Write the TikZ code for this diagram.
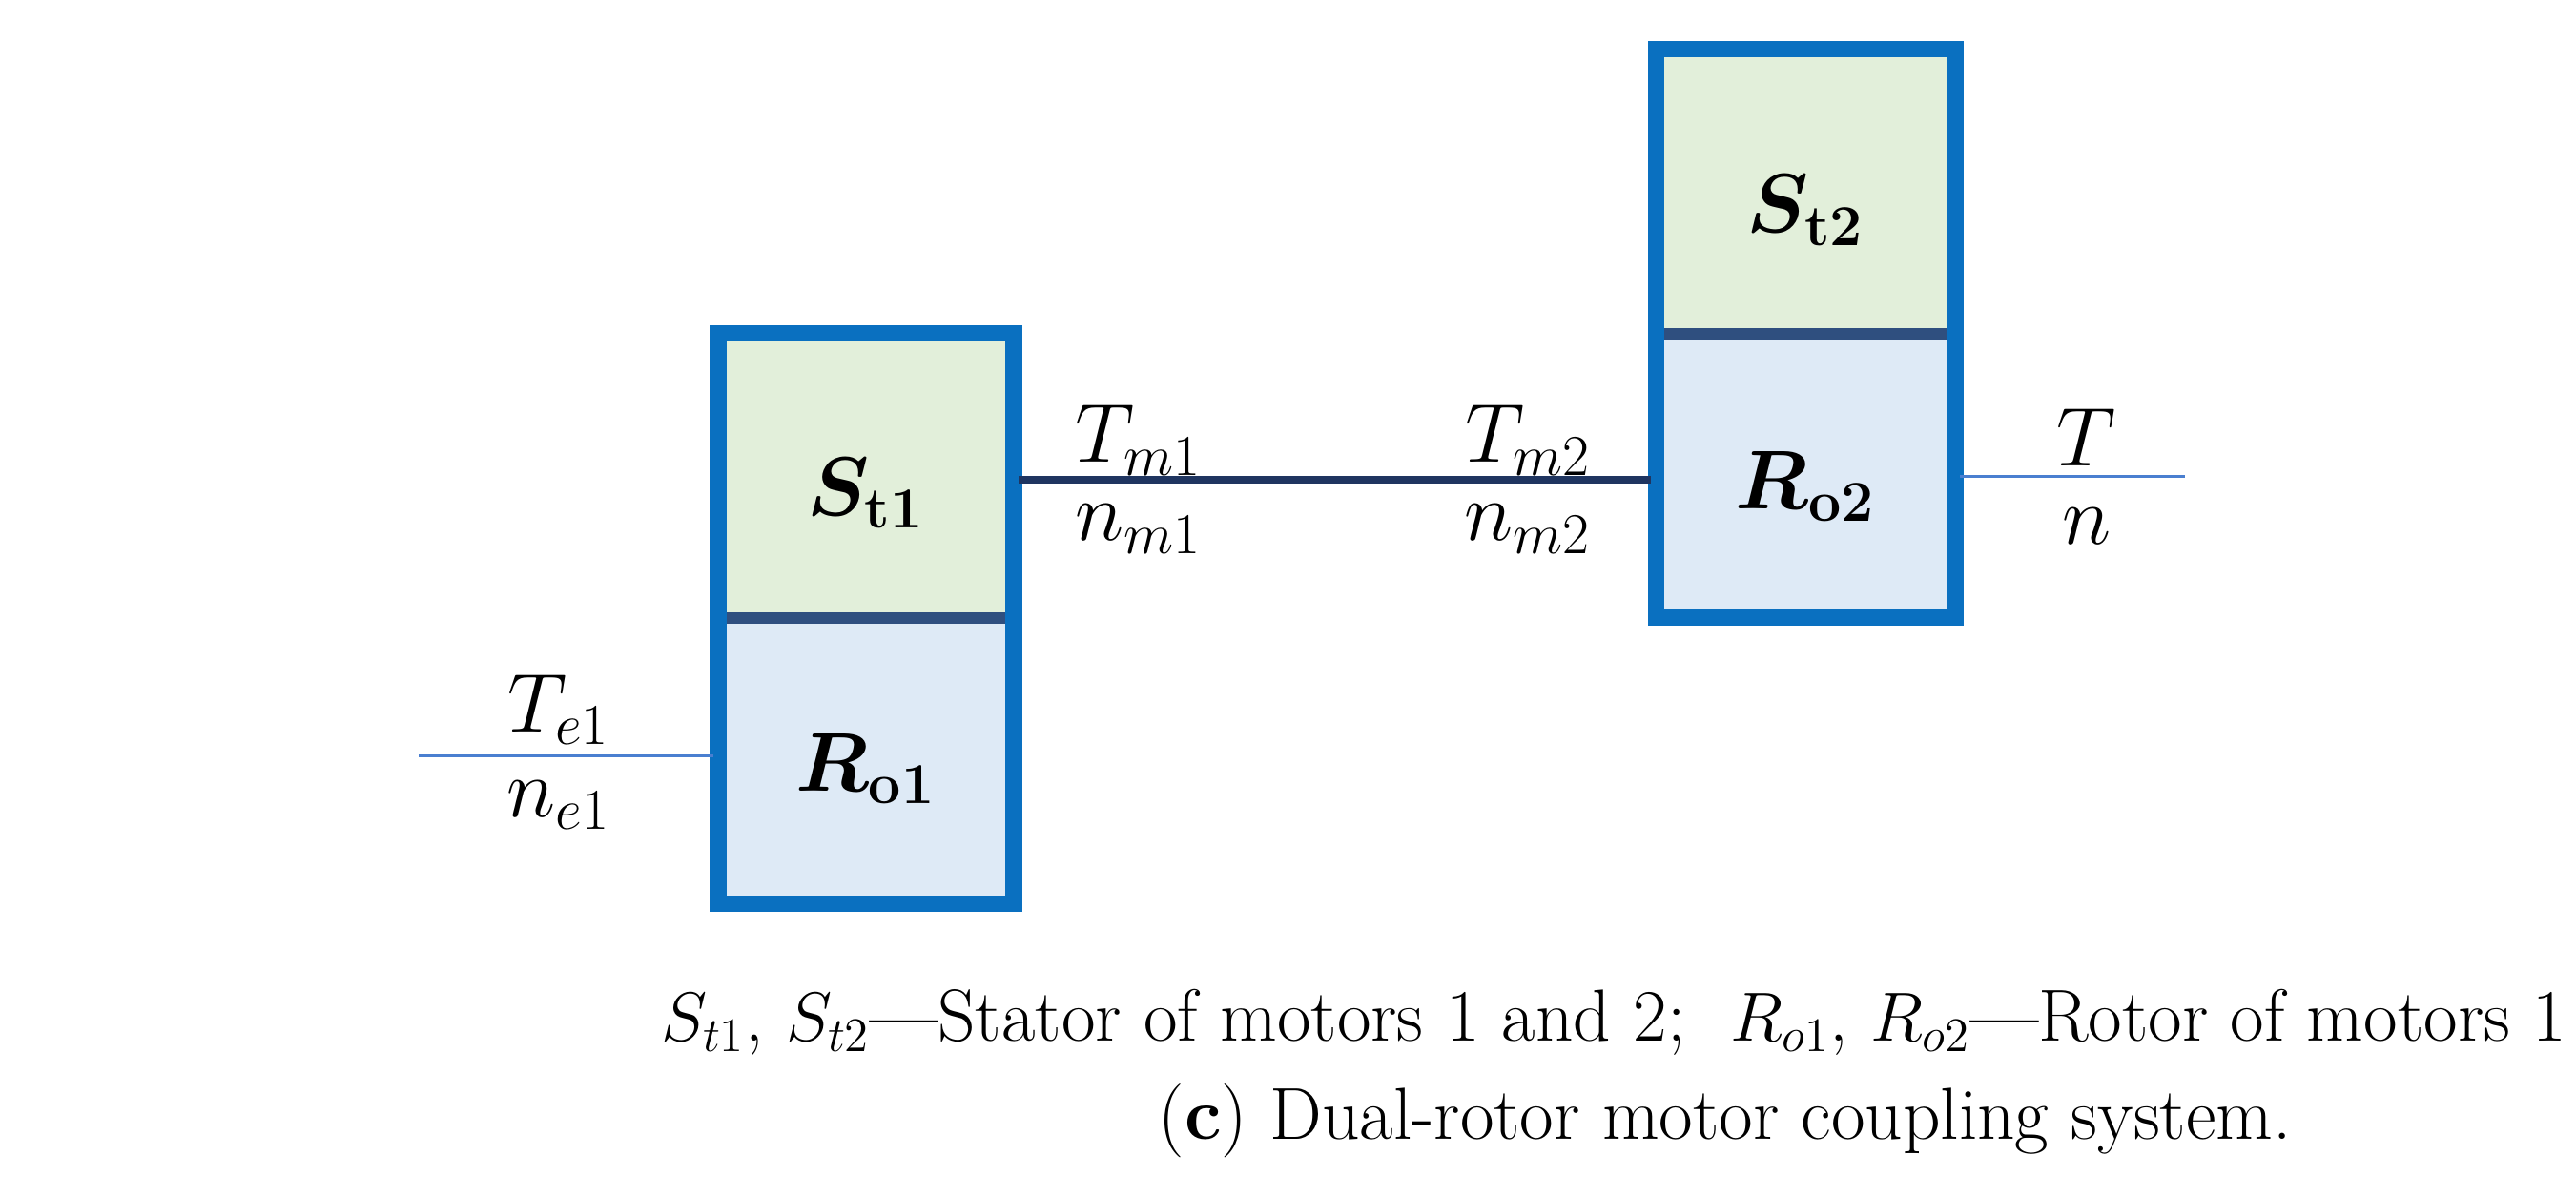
\documentclass[tikz,border=0pt]{standalone}
\usepackage{amsmath,bm}
\begin{document}
\begin{tikzpicture}[x=0.017226cm,y=-0.017226cm,
  lbl/.style={font=\fontsize{26}{30}\selectfont},
  captxt/.style={font=\fontsize{22}{26}\selectfont}]
\definecolor{bd}{HTML}{0A70C0}
\definecolor{gf}{HTML}{E2EFDA}
\definecolor{bf}{HTML}{DEEAF6}
\definecolor{dv}{HTML}{2F4F7F}
\definecolor{nv}{HTML}{1F3560}
\definecolor{lb}{HTML}{4A7FD0}
\useasboundingbox (0,0) rectangle (1568,728);
% box 1
\fill[gf] (437,203) rectangle (617,376);
\fill[bf] (437,376) rectangle (617,550);
\draw[dv,line width=3.5pt] (437,376) -- (617,376);
\draw[bd,line width=5pt] (437,203) rectangle (617,550);
\node[lbl] (s1) at (527,300) {$\bm{S}_{\mathbf{t1}}$};
\node[lbl] (r1) at (527,468) {$\bm{R}_{\mathbf{o1}}$};
% box 2
\fill[gf] (1008,30) rectangle (1190,203);
\fill[bf] (1008,203) rectangle (1190,376);
\draw[dv,line width=3.5pt] (1008,203) -- (1190,203);
\draw[bd,line width=5pt] (1008,30) rectangle (1190,376);
\node[lbl] (s2) at (1099,128) {$\bm{S}_{\mathbf{t2}}$};
\node[lbl] (r2) at (1099,296) {$\bm{R}_{\mathbf{o2}}$};
% shafts
\coordinate (a) at (255,460); \coordinate (b) at (434,460);
\draw[lb,line width=1pt] (a) -- (b);
\coordinate (c) at (620,292); \coordinate (d) at (1005,292);
\draw[nv,line width=2.2pt] (c) -- (d);
\coordinate (e) at (1193,290); \coordinate (f) at (1330,290);
\draw[lb,line width=1pt] (e) -- (f);
% labels
\node[lbl] (te1) at (340,432) {$T_{e1}$};
\node[lbl] (ne1) at (340,490) {$n_{e1}$};
\node[lbl] (tm1) at (693,268) {$T_{m1}$};
\node[lbl] (nm1) at (693,322) {$n_{m1}$};
\node[lbl] (tm2) at (930,268) {$T_{m2}$};
\node[lbl] (nm2) at (930,322) {$n_{m2}$};
\node[lbl] (t) at (1270,266) {$T$};
\node[lbl] (n) at (1270,320) {$n$};
% caption
\node[captxt] (c1) at (1045,622) {$S_{t1}$, $S_{t2}$---Stator of motors 1 and 2;\ \ $R_{o1}$, $R_{o2}$---Rotor of motors 1 and 2.};
\node[captxt] (c2) at (1050,682) {(\textbf{c}) Dual-rotor motor coupling system.};
\end{tikzpicture}
\end{document}
